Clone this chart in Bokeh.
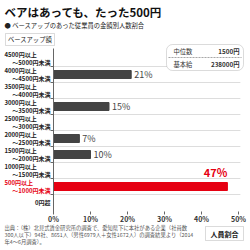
from bokeh.plotting import figure
from bokeh.models import (ColumnDataSource, LabelSet, Label, BoxAnnotation, FixedTicker,
                          CustomJSTickFormatter, LinearAxis)
from bokeh.embed import file_html
from bokeh.resources import INLINE
from bokeh.core.properties import value

FONT = "Noto Sans CJK JP"

# ---- data ----
label_top = ["4500円以上", "4000円以上", "3500円以上", "3000円以上", "2500円以上",
             "2000円以上", "1500円以上", "1000円以上", "500円以上", "0円超"]
label_bottom = ["～5000円未満", "～4500円未満", "～4000円未満", "～3500円未満", "～3000円未満",
                "～2500円未満", "～2000円未満", "～1500円未満", "～1000円未満", ""]
shares = [0, 21, 0, 15, 0, 7, 10, 0, 47, 0]
highlight = [False, False, False, False, False, False, False, False, True, False]
x_ticks = [0, 10, 20, 30, 40, 50]
x_tick_labels = ["0%", "10%", "20%", "30%", "40%", "50%"]
median_label, median_value = "中位数", "1500円"
base_label, base_value = "基本給", "238000円"

DARK = "#444444"
RED = "#e60012"

n = len(shares)
ys = [n - 0.5 - i for i in range(n)]
boundaries = list(range(1, n))

# layout helpers: 0% at px 53, 50% at px 238; rows 16px tall from py 50 to py 210
PX_PER_PCT = 3.7
PX_PER_ROW = 16.0
FRAME = 246

def dx(px):
    return (px - 53) / PX_PER_PCT

def dy(py):
    return (210 - py) / PX_PER_ROW

p = figure(width=250, height=250, output_backend="svg", toolbar_location=None,
           x_range=(dx(0), dx(FRAME)), y_range=(dy(FRAME), dy(0)),
           x_axis_location=None, y_axis_location=None,
           min_border_left=0, min_border_top=0, min_border_right=250 - FRAME,
           min_border_bottom=250 - FRAME)
p.outline_line_color = None
p.background_fill_color = "white"
p.grid.visible = False

empty_fmt = CustomJSTickFormatter(code="return ''")
axis_common = dict(formatter=empty_fmt, major_tick_line_color="#666666",
                   major_tick_out=0, minor_tick_in=0, minor_tick_out=0,
                   minor_tick_line_color=None, major_label_standoff=0,
                   major_label_text_font_size="0px", axis_label_standoff=0)

# y axis drawn at x = 0%
yax = LinearAxis(fixed_location=0, bounds=(dy(212), dy(48)),
                 ticker=FixedTicker(ticks=boundaries), axis_line_color="#666666",
                 major_tick_in=3, **axis_common)
p.add_layout(yax, "right")

# x axis ticks at the bottom of the rows
xax = LinearAxis(fixed_location=dy(213.5), bounds=(0, 50),
                 ticker=FixedTicker(ticks=x_ticks), axis_line_color=None,
                 major_tick_in=3, **axis_common)
p.add_layout(xax, "below")

p.text(x=x_ticks, y=[dy(218.5)] * len(x_ticks), text=x_tick_labels, text_font=value(FONT),
       text_font_size="7px", text_font_style="bold", text_color="#333333",
       text_align="center", text_baseline="middle")

# row separators
p.segment(x0=[0] * len(boundaries), x1=[50.5] * len(boundaries), y0=boundaries, y1=boundaries,
          line_color="#dddddd", line_width=1)

colors = [RED if h else DARK for h in highlight]
src = ColumnDataSource(dict(y=ys, share=shares, color=colors))
p.hbar(y="y", right="share", left=0, height=0.5, color="color", source=src)

# value labels
gx, gy, gt = [], [], []
for s, y, h in zip(shares, ys, highlight):
    if s > 0 and not h:
        gx.append(s + 0.8)
        gy.append(y)
        gt.append(f"{s}%")
p.text(x=gx, y=gy, text=gt, text_font=value(FONT), text_font_size="9px",
       text_color=DARK, text_baseline="middle", text_align="left")
hx = [s for s, h in zip(shares, highlight) if h]
hy = [y + 0.9 for y, h in zip(ys, highlight) if h]
ht = [f"{s}%" for s, h in zip(shares, highlight) if h]
p.text(x=hx, y=hy, text=ht, text_font=value(FONT), text_font_size="11px",
       text_font_style="bold", text_color=RED, text_baseline="middle", text_align="right")

# category labels
lab_color = [RED if h else "#222222" for h in highlight]
two = [b != "" for b in label_bottom]
top_src = ColumnDataSource(dict(
    x=[dx(4) for t in two if t], y=[y + 0.25 for y, t in zip(ys, two) if t],
    text=[l for l, t in zip(label_top, two) if t],
    color=[c for c, t in zip(lab_color, two) if t]))
p.add_layout(LabelSet(x="x", y="y", text="text", source=top_src, text_color="color",
                      text_font=value(FONT), text_font_size="6px", text_font_style="bold",
                      text_baseline="middle", text_align="left"))
right_src = ColumnDataSource(dict(
    x=[dx(50)] * n,
    y=[y - 0.25 if t else y for y, t in zip(ys, two)],
    text=[b if t else l for l, b, t in zip(label_top, label_bottom, two)],
    color=lab_color))
p.add_layout(LabelSet(x="x", y="y", text="text", source=right_src, text_color="color",
                      text_font=value(FONT), text_font_size="6px", text_font_style="bold",
                      text_baseline="middle", text_align="right"))

# title and subtitle
p.add_layout(Label(x=dx(4), y=dy(11), text="ベアはあっても、たった500円", text_font=FONT,
                   text_font_size="11.5px", text_font_style="bold", text_color="#111111",
                   text_baseline="middle"))
p.add_layout(Label(x=dx(4), y=dy(25), text="● ベースアップのあった従業員の金額別人数割合",
                   text_font=FONT, text_font_size="6.3px", text_color="#222222",
                   text_baseline="middle"))

# "ベースアップ額" box
p.add_layout(BoxAnnotation(left=dx(5), right=dx(54), top=dy(33), bottom=dy(45),
                           fill_color="white", fill_alpha=1, line_color="#888888", line_width=1))
p.add_layout(Label(x=dx(29.5), y=dy(39), text="ベースアップ額", text_font=FONT,
                   text_font_size="6.3px", text_color="#222222",
                   text_baseline="middle", text_align="center"))

# info box
p.add_layout(BoxAnnotation(left=dx(166), right=dx(243), top=dy(44), bottom=dy(70),
                           fill_color="white", fill_alpha=1, line_color="#888888",
                           line_width=1, border_radius=6))
p.add_layout(BoxAnnotation(left=dx(168), right=dx(241), top=dy(57), bottom=dy(57),
                           fill_alpha=0, line_color="#555555", line_dash="2 1", line_width=1))
for txt, px, py, al in [(median_label, 173, 51, "left"), (median_value, 239, 51, "right"),
                        (base_label, 173, 63.5, "left"), (base_value, 239, 63.5, "right")]:
    p.add_layout(Label(x=dx(px), y=dy(py), text=txt, text_font=FONT, text_font_size="6.3px",
                       text_font_style="bold" if al == "right" else "normal",
                       text_color="#333333", text_baseline="middle", text_align=al))

# footer
footer = ["出典：（株）北見式賃金研究所の調査で、愛知県下に本社がある企業（社員数",
          "300人以下）94社、8651人（男性6979人＋女性1672人）の調査結果より（2014",
          "年4～6月調査）。"]
for i, t in enumerate(footer):
    p.add_layout(Label(x=dx(4), y=dy(227 + 7 * i), text=t, text_font=FONT,
                       text_font_size="5.3px", text_color="#555555", text_baseline="middle"))

# "人員割合" box
p.add_layout(BoxAnnotation(left=dx(205), right=dx(243), top=dy(226), bottom=dy(240),
                           fill_color="white", fill_alpha=1, line_color="#888888", line_width=1))
p.add_layout(Label(x=dx(224), y=dy(233), text="人員割合", text_font=FONT,
                   text_font_size="7px", text_font_style="bold", text_color="#222222",
                   text_baseline="middle", text_align="center"))

open("out.html", "w").write(file_html(p, INLINE))
